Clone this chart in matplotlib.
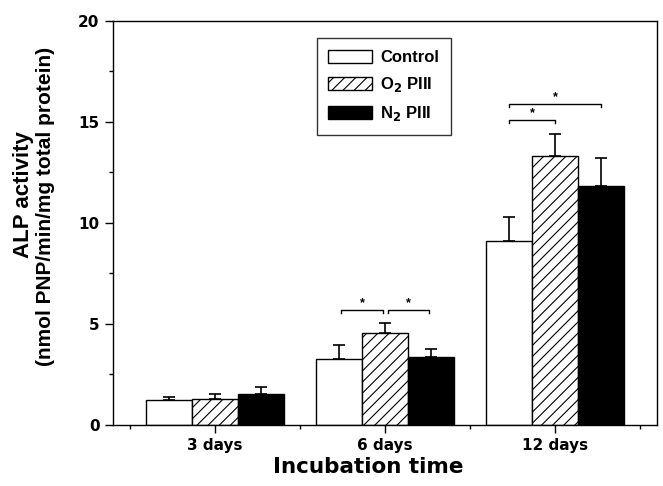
import matplotlib
matplotlib.use("Agg")
import matplotlib.pyplot as plt
import numpy as np

plt.rcParams['font.family'] = ['Liberation Sans', 'DejaVu Sans']
plt.rcParams['font.weight'] = 'bold'
plt.rcParams['hatch.linewidth'] = 0.8

# data
groups = ["3 days", "6 days", "12 days"]
series = ["Control", "O$_2$ PIII", "N$_2$ PIII"]
control = [1.25, 3.28, 9.13]
control_err = [0.12, 0.70, 1.14]
o2 = [1.30, 4.57, 13.3]
o2_err = [0.24, 0.50, 1.09]
n2 = [1.54, 3.37, 11.81]
n2_err = [0.35, 0.40, 1.39]

# significance brackets: (x start, x end, height)
brackets = [(1.74, 1.99, 5.7), (2.02, 2.26, 5.7), (2.73, 3.0, 15.1), (2.73, 3.27, 15.9)]

x = np.arange(1, len(groups) + 1)
w = 0.27
heavy = ['DejaVu Sans']

fig = plt.figure(figsize=(6.63, 4.86), dpi=100)
ax = fig.add_axes([0.170, 0.1255, 0.821, 0.8315])

vals = [control, o2, n2]
errs = [control_err, o2_err, n2_err]
styles = [dict(color="white", hatch=None), dict(color="white", hatch="///"), dict(color="black", hatch=None)]
for i in range(3):
    ax.bar(x + (i - 1) * w, vals[i], w, color=styles[i]["color"], edgecolor="black",
           linewidth=1.0, hatch=styles[i]["hatch"], label=series[i], zorder=2)
    ax.errorbar(x + (i - 1) * w, vals[i], yerr=[np.zeros(3), errs[i]], fmt="none",
                ecolor="black", elinewidth=1.2, capsize=4, capthick=1.2, zorder=3)

for x0, x1, h in brackets:
    ax.plot([x0, x0, x1, x1], [h - 0.15, h, h, h - 0.15], color="black", lw=1.0)
    ax.text((x0 + x1) / 2, h + 0.02, "*", ha="center", va="bottom", fontsize=9, fontweight="bold")

ax.set_xlim(0.4, 3.6)
ax.set_ylim(0, 20)
ax.set_xticks(x)
ax.set_xticklabels(groups)
ax.set_xticks([0.5, 1.5, 2.5, 3.5], minor=True)
ax.set_yticks([0, 5, 10, 15, 20])
ax.set_yticks([2.5, 7.5, 12.5, 17.5], minor=True)
ax.tick_params(axis="both", which="major", direction="out", length=6, width=1.0)
ax.tick_params(axis="both", which="minor", direction="out", length=3, width=1.0)
for lab in ax.get_xticklabels() + ax.get_yticklabels():
    lab.set_fontweight("bold")
    lab.set_family(heavy)
    lab.set_fontsize(11)
for s in ax.spines.values():
    s.set_linewidth(1.0)

fig.text(368 / 663, 1 - 467 / 486, "Incubation time", ha="center", va="center",
         fontsize=15.5, fontweight="bold", family=heavy)
fig.text(24 / 663, 1 - 195 / 486, "ALP activity", rotation=90, ha="center", va="center",
         fontsize=16, fontweight="bold")
fig.text(46 / 663, 1 - 206 / 486, "(nmol PNP/min/mg total protein)", rotation=90, ha="center",
         va="center", fontsize=15, fontweight="bold")

leg = ax.legend(loc="upper left", bbox_to_anchor=(0.375, 0.957), fontsize=12, frameon=True,
                fancybox=False, edgecolor="black", handlelength=2.6, handleheight=0.8,
                borderpad=0.7, labelspacing=0.6, borderaxespad=0, handletextpad=0.5)
leg.get_frame().set_linewidth(1.0)

fig.savefig("out.png", dpi=100)
